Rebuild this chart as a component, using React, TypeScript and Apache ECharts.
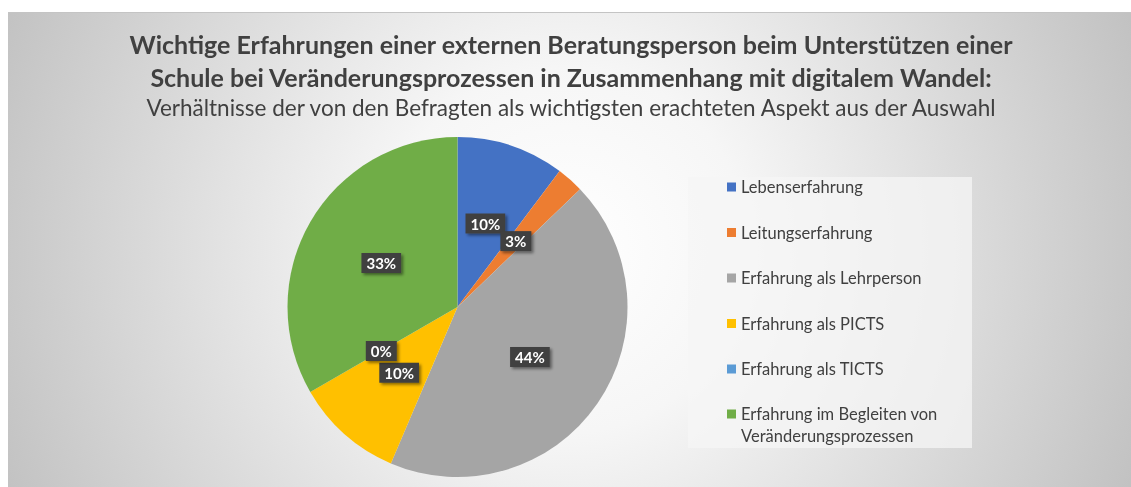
import React, { useEffect, useRef } from "react";
import * as echarts from "echarts";

const categories = [
  "Lebenserfahrung",
  "Leitungserfahrung",
  "Erfahrung als Lehrperson",
  "Erfahrung als PICTS",
  "Erfahrung als TICTS",
  "Erfahrung im Begleiten von\nVeränderungsprozessen",
];
const values = [4, 1, 17, 4, 0, 13];
const colors = ["#4472C4", "#ED7D31", "#A5A5A5", "#FFC000", "#5B9BD5", "#70AD47"];

const titleLines = [
  "Wichtige Erfahrungen einer externen Beratungsperson beim Unterstützen einer",
  "Schule bei Veränderungsprozessen in Zusammenhang mit digitalem Wandel:",
];
const subtitle =
  "Verhältnisse der von den Befragten als wichtigsten erachteten Aspekt aus der Auswahl";

const FONT = "Lato, 'Open Sans', sans-serif";

export default function App() {
  const ref = useRef<HTMLDivElement>(null);
  useEffect(() => {
    if (!ref.current) return;
    const chart = echarts.init(ref.current, undefined, { renderer: "svg" });
    const legendCommon = {
      orient: "vertical",
      left: 722,
      icon: "rect",
      itemWidth: 9,
      itemHeight: 9,
      itemGap: 23.5,
      selectedMode: false,
      textStyle: { fontFamily: FONT, fontSize: 16.5, color: "#404040", lineHeight: 22 },
    };
    chart.setOption({
      animation: false,
      textStyle: { fontFamily: FONT },
      graphic: [
        {
          type: "rect",
          z: -10,
          silent: true,
          shape: { x: 8, y: 12, width: 1123, height: 475 },
          style: {
            fill: {
              type: "radial",
              x: 566,
              y: 250,
              r: 610,
              global: true,
              colorStops: [
                { offset: 0, color: "#ffffff" },
                { offset: 0.3, color: "#f6f6f6" },
                { offset: 1, color: "#c2c2c2" },
              ],
            },
          },
        },
        {
          type: "line",
          z: -9,
          silent: true,
          shape: { x1: 8, y1: 12.5, x2: 1131, y2: 12.5 },
          style: { stroke: "#c4c4c4", lineWidth: 1 },
        },
        {
          type: "rect",
          z: -8,
          silent: true,
          shape: { x: 688, y: 177, width: 284, height: 271 },
          style: { fill: "rgba(245,245,245,0.75)" },
        },
      ],
      title: [
        {
          text: titleLines.join("\n"),
          left: 566,
          top: 22.5,
          textAlign: "center",
          textStyle: {
            fontFamily: FONT,
            fontSize: 25,
            fontWeight: "bold",
            color: "#404040",
            lineHeight: 33,
          },
        },
        {
          text: subtitle,
          left: 566,
          top: 89,
          textAlign: "center",
          textStyle: {
            fontFamily: FONT,
            fontSize: 22.5,
            fontWeight: "normal",
            color: "#404040",
            lineHeight: 26,
          },
        },
      ],
      legend: [
        {
          ...legendCommon,
          top: 171,
          data: categories.slice(0, 5),
        },
        {
          ...legendCommon,
          top: 376,
          formatter: (name: string) => " \n" + name,
          data: categories.slice(5),
        },
      ],
      series: [
        {
          type: "pie",
          center: [457.5, 307],
          radius: 170,
          startAngle: 90,
          clockwise: true,
          avoidLabelOverlap: false,
          minShowLabelAngle: 0,
          color: colors,
          itemStyle: { borderWidth: 0 },
          labelLayout: { hideOverlap: false },
          label: {
            show: true,
            position: "inside",
            formatter: (p: any) => Math.round(p.percent) + "%",
            color: "#ffffff",
            fontFamily: FONT,
            fontWeight: "bold",
            fontSize: 15,
            backgroundColor: "#404040",
            padding: [3, 5, 2, 5],
            shadowColor: "rgba(0,0,0,0.45)",
            shadowBlur: 3,
            shadowOffsetX: 2,
            shadowOffsetY: 2,
          },
          labelLine: { show: false },
          emphasis: { disabled: true },
          data: categories.map((c, i) => ({ name: c, value: values[i] })),
        },
      ],
    });
    return () => chart.dispose();
  }, []);
  return (
    <div
      ref={ref}
      style={{ position: "fixed", left: 0, top: 0, width: 1131, height: 487 }}
    />
  );
}
